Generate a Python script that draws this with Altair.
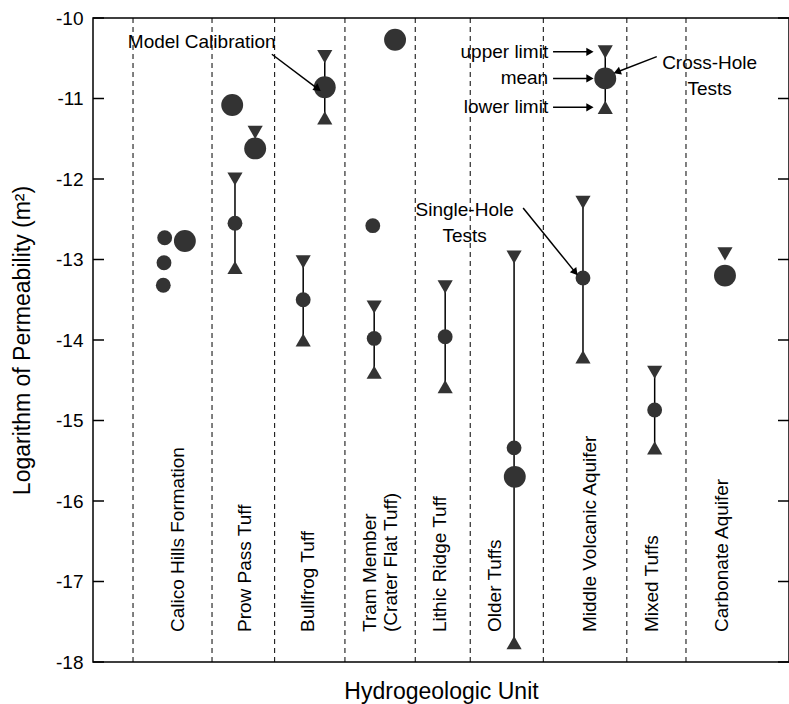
import math
import altair as alt
import pandas as pd

# Plot area size (pixels) and data extents
W, H = 696, 644
X_MAX = 100.0
Y_MIN, Y_MAX = -18, -10
FONT = "Liberation Sans"
INK = "#000000"
MARK = "#333333"

# Hydrogeologic units (bottom labels) and column layout on the 0-100 x scale
units = ["Calico Hills Formation", "Prow Pass Tuff", "Bullfrog Tuff",
         "Tram Member\n(Crater Flat Tuff)", "Lithic Ridge Tuff", "Older Tuffs",
         "Middle Volcanic Aquifer", "Mixed Tuffs", "Carbonate Aquifer"]
unit_label_x = [12.2, 21.8, 30.9, 39.8, 49.9, 57.8, 71.4, 80.3, 90.4]
unit_dividers = [5.75, 17.1, 26.1, 36.2, 46.3, 54.2, 64.7, 76.7, 85.2]

# Tests with upper limit / mean / lower limit (log10 permeability, m^2)
range_x = [20.4, 33.3, 30.2, 40.4, 50.6, 60.5, 73.6, 70.4, 80.7]
range_upper = [-12.00, -10.48, -13.03, -13.59, -13.34, -12.97, -10.42, -12.29, -14.40]
range_mean = [-12.55, -10.86, -13.50, -13.98, -13.96, -15.34, -10.75, -13.23, -14.87]
range_lower = [-13.10, -11.24, -14.00, -14.40, -14.58, -17.76, -11.11, -14.21, -15.34]
range_test = ["single", "cross", "single", "single", "single",
              "single", "cross", "single", "single"]

# Tests reported as a single mean value
point_x = [13.2, 10.3, 10.2, 10.1, 20.0, 23.3, 43.4, 40.2, 60.6, 90.8]
point_value = [-12.77, -12.73, -13.04, -13.32, -11.08, -11.62, -10.27, -12.58, -15.70, -13.20]
point_test = ["cross", "single", "single", "single", "cross",
              "cross", "cross", "single", "cross", "cross"]

# Upper limits reported without a lower limit
upper_only_x = [23.3, 90.8]
upper_only_value = [-11.42, -12.93]

y_ticks = list(range(Y_MIN, Y_MAX + 1))

ranges = pd.DataFrame({"x": range_x, "upper": range_upper, "mean": range_mean,
                       "lower": range_lower, "test": range_test})
points = pd.DataFrame({"x": point_x, "value": point_value, "test": point_test})
uppers = pd.DataFrame({"x": range_x + upper_only_x, "value": range_upper + upper_only_value})
lowers = pd.DataFrame({"x": range_x, "value": range_lower})
labels = pd.DataFrame({"x": unit_label_x, "unit": units})
dividers = pd.DataFrame({"x": unit_dividers})
ticks = pd.DataFrame({"y": y_ticks})

xs = alt.Scale(domain=[0, X_MAX], nice=False, zero=False)
ys = alt.Scale(domain=[Y_MIN, Y_MAX], nice=False, zero=False)
size_scale = alt.Scale(domain=["single", "cross"], range=[220, 480])


def X(field):
    return alt.X(field, type="quantitative", scale=xs, axis=None)


# Annotation text and leader arrows
notes = pd.DataFrame({
    "x": [5.0, 65.4, 65.4, 65.4, 88.6, 53.4],
    "y": [-10.30, -10.42, -10.75, -11.11, -10.56, -12.38],
    "text": ["Model Calibration", "upper limit", "mean", "lower limit",
             "Cross-Hole\nTests", "Single-Hole\nTests"],
    "anchor": ["left", "right", "right", "right", "center", "center"],
})
arrows = pd.DataFrame({
    "x1": [25.7, 66.1, 66.1, 66.1, 81.0, 61.8],
    "y1": [-10.45, -10.42, -10.75, -11.11, -10.48, -12.36],
    "x2": [32.3, 71.4, 71.4, 71.4, 75.3, 69.3],
    "y2": [-10.88, -10.42, -10.75, -11.11, -10.67, -13.16],
})
px_x = W / X_MAX
px_y = H / (Y_MAX - Y_MIN)
arrows["angle"] = [
    math.degrees(math.atan2(-(b2 - b1) * px_y, (a2 - a1) * px_x)) % 360
    for a1, b1, a2, b2 in zip(arrows["x1"], arrows["y1"], arrows["x2"], arrows["y2"])
]

divider_layer = alt.Chart(dividers).mark_rule(
    color=INK, strokeWidth=1, strokeDash=[5, 4]
).encode(x=X("x"), y=alt.value(0), y2=alt.value(H))

left_ticks = alt.Chart(ticks).mark_rule(color=INK, strokeWidth=1.5).encode(
    y=alt.Y("y:Q", scale=ys), x=alt.value(0), x2=alt.value(11))
right_ticks = alt.Chart(ticks).mark_rule(color=INK, strokeWidth=1.5).encode(
    y=alt.Y("y:Q", scale=ys), x=alt.value(W - 11), x2=alt.value(W))

axis_layer = alt.Chart(ticks).mark_point(opacity=0).encode(
    x=alt.value(0),
    y=alt.Y("y:Q", scale=ys, axis=alt.Axis(
        values=y_ticks, ticks=False, domain=False, grid=False,
        labelExpr="datum.value + ''", labelPadding=10,
        labelFont=FONT, labelFontSize=19, labelColor=INK,
        title="Logarithm of Permeability (m²)", titleFont=FONT,
        titleFontSize=23, titleFontWeight="normal", titleColor=INK,
        titleX=-71, titleY=H / 2, titleBaseline="middle", titleAngle=270)),
)

x_title_layer = alt.Chart(ticks).mark_point(opacity=0).encode(
    y=alt.value(0),
    x=alt.X("y:Q", scale=alt.Scale(domain=[Y_MIN, Y_MAX]), axis=alt.Axis(
        labels=False, ticks=False, domain=False, grid=False,
        title="Hydrogeologic Unit", titleFont=FONT, titleFontSize=23,
        titleFontWeight="normal", titleColor=INK, titleY=29,
        titleBaseline="middle")),
)

bar_layer = alt.Chart(ranges).mark_rule(color=INK, strokeWidth=1.5).encode(
    x=X("x"), y=alt.Y("upper:Q", scale=ys), y2="lower:Q")

upper_layer = alt.Chart(uppers).mark_point(
    shape="triangle-down", filled=True, color=MARK, opacity=1, size=230
).encode(x=X("x"), y=alt.Y("value:Q", scale=ys))

lower_layer = alt.Chart(lowers).mark_point(
    shape="triangle-up", filled=True, color=MARK, opacity=1, size=230
).encode(x=X("x"), y=alt.Y("value:Q", scale=ys))

mean_layer = alt.Chart(ranges).mark_circle(color=MARK, opacity=1).encode(
    x=X("x"), y=alt.Y("mean:Q", scale=ys),
    size=alt.Size("test:N", scale=size_scale, legend=None))

point_layer = alt.Chart(points).mark_circle(color=MARK, opacity=1).encode(
    x=X("x"), y=alt.Y("value:Q", scale=ys),
    size=alt.Size("test:N", scale=size_scale, legend=None))

label_layer = alt.Chart(labels).mark_text(
    angle=270, align="left", baseline="middle", font=FONT, fontSize=19,
    color=INK, lineBreak="\n", lineHeight=21
).encode(x=X("x"), y=alt.value(H - 30), text="unit:N")

note_layers = [
    alt.Chart(notes[notes["anchor"] == a]).mark_text(
        align=a, baseline="middle", font=FONT, fontSize=19, color=INK,
        lineBreak="\n", lineHeight=26
    ).encode(x=X("x"), y=alt.Y("y:Q", scale=ys), text="text:N")
    for a in ["left", "right", "center"]
]

arrow_line = alt.Chart(arrows).mark_rule(color=INK, strokeWidth=1.5).encode(
    x=X("x1"), x2="x2", y=alt.Y("y1:Q", scale=ys), y2="y2:Q")
arrow_head = alt.Chart(arrows).mark_point(
    shape="triangle-right", filled=True, color=INK, opacity=1, size=70
).encode(x=X("x2"), y=alt.Y("y2:Q", scale=ys),
         angle=alt.Angle("angle:Q", scale=None))

chart = alt.layer(
    divider_layer, left_ticks, right_ticks, axis_layer, x_title_layer,
    bar_layer, upper_layer, lower_layer, mean_layer, point_layer,
    label_layer, *note_layers, arrow_line, arrow_head,
).resolve_scale(x="independent").properties(
    width=W, height=H,
    autosize=alt.AutoSizeParams(type="none"),
    padding={"left": 93, "top": 18, "right": 0, "bottom": 42},
    background="white",
).configure_view(stroke=INK, strokeWidth=1.5)

chart.save("out.html", embed_options={"renderer": "svg", "actions": False})
